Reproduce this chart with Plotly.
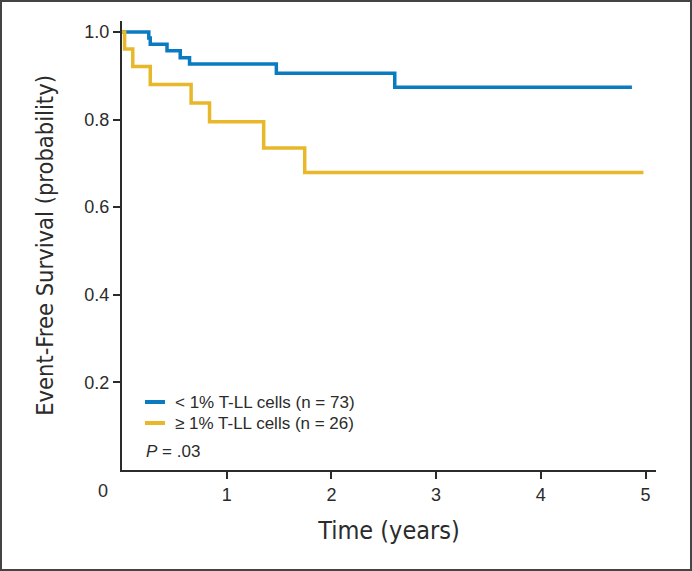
import plotly.graph_objects as go

# ── data ──────────────────────────────────────────────────────────────────────
blue_name = "< 1% T-LL cells (n = 73)"
blue_time = [0, 0.256, 0.27, 0.43, 0.556, 0.645, 1.474, 2.605, 4.87]
blue_surv = [1.0, 0.986, 0.972, 0.957, 0.941, 0.927, 0.906, 0.874, 0.874]

gold_name = "≥ 1% T-LL cells (n = 26)"
gold_time = [0, 0.025, 0.103, 0.27, 0.66, 0.836, 1.353, 1.745, 4.98]
gold_surv = [1.0, 0.961, 0.921, 0.880, 0.838, 0.795, 0.735, 0.679, 0.679]

x_ticks = [1, 2, 3, 4, 5]
y_ticks = [0.2, 0.4, 0.6, 0.8, 1.0]
y_tick_text = ["0.2", "0.4", "0.6", "0.8", "1.0"]

# ── layout constants ──────────────────────────────────────────────────────────
W, H = 692, 571
ML, MR, MT, MB = 122, 36, 21, 101
PW, PH = W - ML - MR, H - MT - MB

BLUE = "#0B7BC1"
GOLD = "#E8B82A"
INK = "#2b2b2b"
SANS = "Liberation Sans, Arial, sans-serif"
NARROW = "Liberation Sans Narrow, DejaVu Sans Condensed, sans-serif"
TICK_FONT = dict(family=SANS, size=18, color=INK)
LEG_FONT = dict(family=SANS, size=17, color=INK)


def px_x(px):
    return (px - ML) / PW


def px_y(py):
    return (H - MB - py) / PH


fig = go.Figure()
series = [(blue_name, blue_time, blue_surv, BLUE), (gold_name, gold_time, gold_surv, GOLD)]
for name, t, s, color in series:
    fig.add_trace(go.Scatter(x=t, y=s, mode="lines", name=name,
                             line=dict(color=color, width=3.5, shape="hv")))

axis_common = dict(
    showgrid=False, zeroline=False, showline=True, linecolor=INK, linewidth=2,
    ticks="outside", ticklen=7, tickwidth=1.5, tickcolor=INK, tickfont=TICK_FONT,
    automargin=False,
)

# hand-drawn legend (short line samples like the original)
annotations = []
shapes = []
for i, (name, _, _, color) in enumerate(series):
    row_y = 402 + i * 21
    shapes.append(dict(type="line", xref="paper", yref="paper",
                       x0=px_x(145), x1=px_x(165), y0=px_y(row_y), y1=px_y(row_y),
                       line=dict(color=color, width=4)))
    annotations.append(dict(text=name, x=px_x(173), y=px_y(row_y), xref="paper",
                            yref="paper", showarrow=False, xanchor="left",
                            yanchor="middle", font=LEG_FONT))

annotations += [
    dict(text="0", x=px_x(103), y=px_y(491), xref="paper", yref="paper",
         showarrow=False, font=TICK_FONT, xanchor="center", yanchor="middle"),
    dict(text="<i>P</i> = .03", x=px_x(144), y=px_y(451), xref="paper", yref="paper",
         showarrow=False, xanchor="left", yanchor="middle", font=LEG_FONT),
]

shapes.append(dict(type="rect", xref="paper", yref="paper",
                   x0=px_x(1), x1=px_x(W - 1), y0=px_y(H - 1), y1=px_y(1),
                   line=dict(color="#444444", width=2), layer="below"))

fig.update_layout(
    width=W, height=H,
    margin=dict(l=ML, r=MR, t=MT, b=MB),
    paper_bgcolor="white", plot_bgcolor="white",
    showlegend=False,
    xaxis=dict(**axis_common, range=[0, 5.1], tickvals=x_ticks,
               title=dict(text="Time (years)", standoff=18,
                          font=dict(family=NARROW, size=25, color=INK))),
    yaxis=dict(**axis_common, range=[0, 1.025], tickvals=y_ticks, ticktext=y_tick_text,
               title=dict(text="Event-Free Survival (probability)", standoff=24,
                          font=dict(family=NARROW, size=23.5, color=INK))),
    annotations=annotations,
    shapes=shapes,
)

fig.write_html("out.html", config={"displayModeBar": False},
               post_script="document.body.style.margin='0';")
